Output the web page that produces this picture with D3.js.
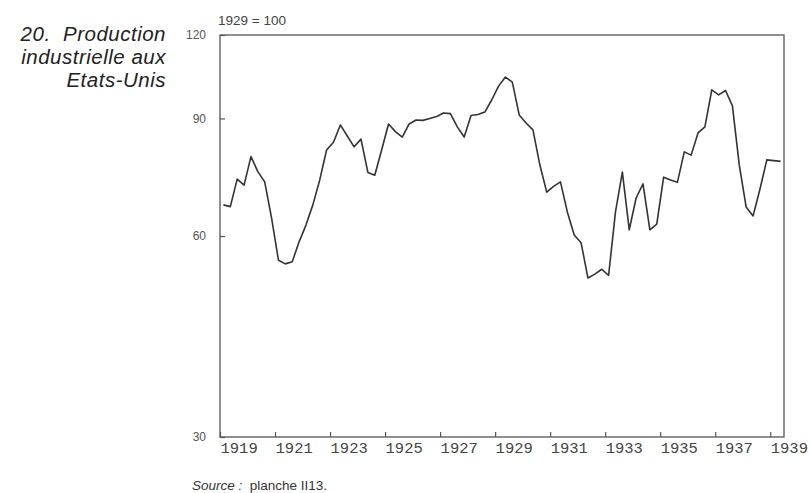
<!DOCTYPE html>
<html><head><meta charset="utf-8">
<script src="https://cdn.jsdelivr.net/npm/d3@7"></script>
<style>
body{margin:0;background:#fff;}
svg{display:block;}
</style></head>
<body>
<svg id="chart" width="811" height="493"></svg>
<script>
// Quarterly index of US industrial production, 1929 = 100
const startYear = 1919;
const values = [66.8, 66.4, 73.0, 71.5, 78.9, 74.9, 72.3, 63.8, 55.2, 54.5,
  54.9, 58.8, 62.3, 66.8, 72.8, 80.7, 82.9, 88.0, 84.7, 81.6,
  83.8, 74.7, 74.0, 80.7, 88.3, 86.0, 84.4, 88.3, 89.5, 89.4,
  90.0, 90.6, 91.7, 91.5, 87.4, 84.4, 90.9, 91.2, 92.0, 95.9,
  100.6, 103.8, 102.0, 91.1, 88.6, 86.5, 76.7, 69.8, 71.2, 72.3,
  65.2, 60.2, 58.6, 51.9, 52.6, 53.5, 52.4, 65.2, 74.8, 61.3,
  68.4, 71.8, 61.3, 62.5, 73.5, 72.8, 72.2, 80.2, 79.3, 85.6,
  87.4, 99.3, 97.6, 99.1, 94.0, 76.6, 66.3, 64.3, 70.5, 78.0,
  77.8, 77.6];
const xTicks = [1919, 1921, 1923, 1925, 1927, 1929, 1931, 1933, 1935, 1937, 1939];
const yTicks = [30, 60, 90, 120];
const titleLines = ["20.  Production", "industrielle aux", "Etats-Unis"];
const baseLabel = "1929 = 100";

const svg = d3.select("#chart");
const L = 220, R = 784, T = 35, B = 437;
const x = d3.scaleLinear().domain([1919, 1939.5]).range([L, R]);
const y = d3.scaleLog().domain([30, 120]).range([B, T]);
const axisColor = "#555";

// Frame
svg.append("rect").attr("x", L).attr("y", T).attr("width", R - L).attr("height", B - T)
  .attr("fill", "none").attr("stroke", axisColor).attr("stroke-width", 1.3);

// X axis
const xAxis = d3.axisBottom(x).tickValues(xTicks).tickSize(-5).tickPadding(0).tickFormat(d3.format("d"));
const gx = svg.append("g").attr("transform", `translate(0,${B})`).call(xAxis);
gx.select(".domain").remove();
gx.selectAll(".tick line").attr("stroke", axisColor).attr("stroke-width", 1.2);
gx.selectAll(".tick text").attr("text-anchor", "start").attr("dy", "1em").attr("y", 0)
  .attr("font-family", "'Liberation Mono', 'DejaVu Sans Mono', monospace")
  .attr("font-size", 15.5).attr("fill", "#444");

// Y axis
const yAxis = d3.axisLeft(y).tickValues(yTicks).tickSize(-5).tickPadding(14).tickFormat(d3.format("d"));
const gy = svg.append("g").attr("transform", `translate(${L},0)`).call(yAxis);
gy.select(".domain").remove();
gy.selectAll(".tick line").attr("stroke", axisColor).attr("stroke-width", 1.2);
gy.selectAll(".tick text").attr("font-family", "'Liberation Sans', Arial, sans-serif")
  .attr("font-size", 12).attr("fill", "#555");

// Line
const line = d3.line()
  .x((d, i) => x(startYear + (i + 0.5) / 4))
  .y(d => y(d));
svg.append("path").datum(values).attr("d", line)
  .attr("fill", "none").attr("stroke", "#333").attr("stroke-width", 1.6)
  .attr("stroke-linejoin", "round");

// Base label
svg.append("text").attr("x", 218).attr("y", 25).text(baseLabel)
  .attr("font-family", "'Liberation Sans', Arial, sans-serif").attr("font-size", 13.5).attr("fill", "#444");

// Title
svg.append("g").selectAll("text").data(titleLines).join("text")
  .attr("x", 166).attr("y", (d, i) => 41 + i * 23)
  .attr("text-anchor", "end")
  .attr("xml:space", "preserve").style("white-space", "pre")
  .attr("font-family", "'Liberation Sans', Arial, sans-serif")
  .attr("font-style", "italic").attr("font-size", 20.5).attr("letter-spacing", 0.5).attr("fill", "#222")
  .text(d => d);

// Source
const src = svg.append("text").attr("x", 192).attr("y", 490).style("white-space", "pre")
  .attr("font-family", "'Liberation Sans', Arial, sans-serif").attr("font-size", 13.5).attr("fill", "#333");
src.append("tspan").attr("font-style", "italic").text("Source : ");
src.append("tspan").text(" planche II13.");
</script>
</body></html>
